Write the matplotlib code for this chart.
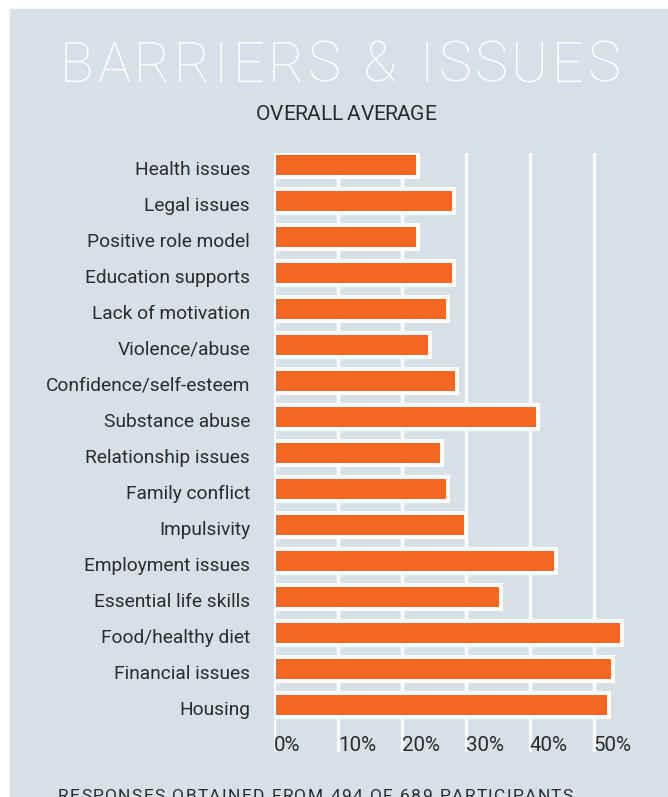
import numpy as np
import matplotlib
matplotlib.use("Agg")
import matplotlib.pyplot as plt
from matplotlib.patches import Rectangle

W, H = 668, 797

categories = [
    "Health issues", "Legal issues", "Positive role model", "Education supports",
    "Lack of motivation", "Violence/abuse", "Confidence/self-esteem", "Substance abuse",
    "Relationship issues", "Family conflict", "Impulsivity", "Employment issues",
    "Essential life skills", "Food/healthy diet", "Financial issues", "Housing",
]
values = [22.5, 28.1, 22.5, 28.1, 27.2, 24.4, 28.6, 41.3,
          26.3, 27.2, 30.0, 44.1, 35.6, 54.4, 53.0, 52.5]
ticks = [0, 10, 20, 30, 40, 50]
tick_labels = ["0%", "10%", "20%", "30%", "40%", "50%"]
title = "BARRIERS & ISSUES"
subtitle = "OVERALL AVERAGE"
footnote = "RESPONSES OBTAINED FROM 494 OF 689 PARTICIPANTS"

BG = "#d8e0e7"
ORANGE = "#f36723"
INK = "#2b2b2b"
NARROW = ["Liberation Sans Narrow", "Roboto", "DejaVu Sans"]
LIGHT = ["Roboto", "Lato", "DejaVu Sans"]


def px(x, y):
    # pixel position measured from the top-left corner -> figure fraction
    return x / W, 1 - y / H


def spread_text(fig, s, x0, x1, baseline, size, **kw):
    # letter-spaced text that runs from x0 to x1 (pixels)
    renderer = fig.canvas.get_renderer()
    widths = []
    for ch in s:
        if ch == " ":
            widths.append(size / 0.72 * 0.28)
            continue
        t = fig.text(0, 0, ch, fontsize=size, **kw)
        widths.append(t.get_window_extent(renderer).width)
        t.remove()
    gap = (x1 - x0 - sum(widths)) / (len(s) - 1)
    x = x0
    for ch, w in zip(s, widths):
        if ch != " ":
            fig.text(*px(x, baseline), ch, fontsize=size, ha="left", va="baseline", **kw)
        x += w + gap


def main():
    fig = plt.figure(figsize=(W / 100, H / 100), dpi=100)
    fig.patch.set_facecolor("white")
    fig.add_artist(Rectangle((10 / W, 0), (W - 10) / W, (H - 9) / H,
                             transform=fig.transFigure, color=BG, zorder=0))

    # axes: 0% at x=274px, 10% = 63.9px; rows 36px apart, first at y=165px
    left, top, bottom = 274, 153, 752
    unit = 6.39
    ax = fig.add_axes([left / W, 1 - bottom / H, (W - left) / W, (bottom - top) / H])
    ax.set_facecolor("none")
    ax.axis("off")
    ax.set_xlim(0, (W - left) / unit)
    ax.set_ylim((bottom - 165) / 36, (top - 165) / 36)

    y = np.arange(len(categories))
    for t in ticks:
        ax.axvline(t, color="white", lw=3.3 * 0.72, zorder=1)
    ax.barh(y, values, height=24 / 36, color=ORANGE, edgecolor="white",
            linewidth=4 * 0.72, zorder=3)

    for yi, name in zip(y, categories):
        ax.text(-24 / unit, yi + 10 / 36, name, ha="right", va="baseline", fontsize=13.8,
                color=INK, family=NARROW)
    for t, lab in zip(ticks, tick_labels):
        ax.text(t, (750.7 - 165) / 36, lab, ha="left", va="baseline", fontsize=14.8,
                color=INK, family=NARROW, zorder=4)

    spread_text(fig, title, 60, 620, 82, 40, color="white", family=LIGHT, weight="light")
    spread_text(fig, subtitle, 256, 436, 120, 15.1, color=INK, family=NARROW)
    spread_text(fig, footnote, 58, 573, 801, 12.5, color=INK, family=NARROW)

    fig.savefig("out.png", dpi=100)


if __name__ == "__main__":
    main()
